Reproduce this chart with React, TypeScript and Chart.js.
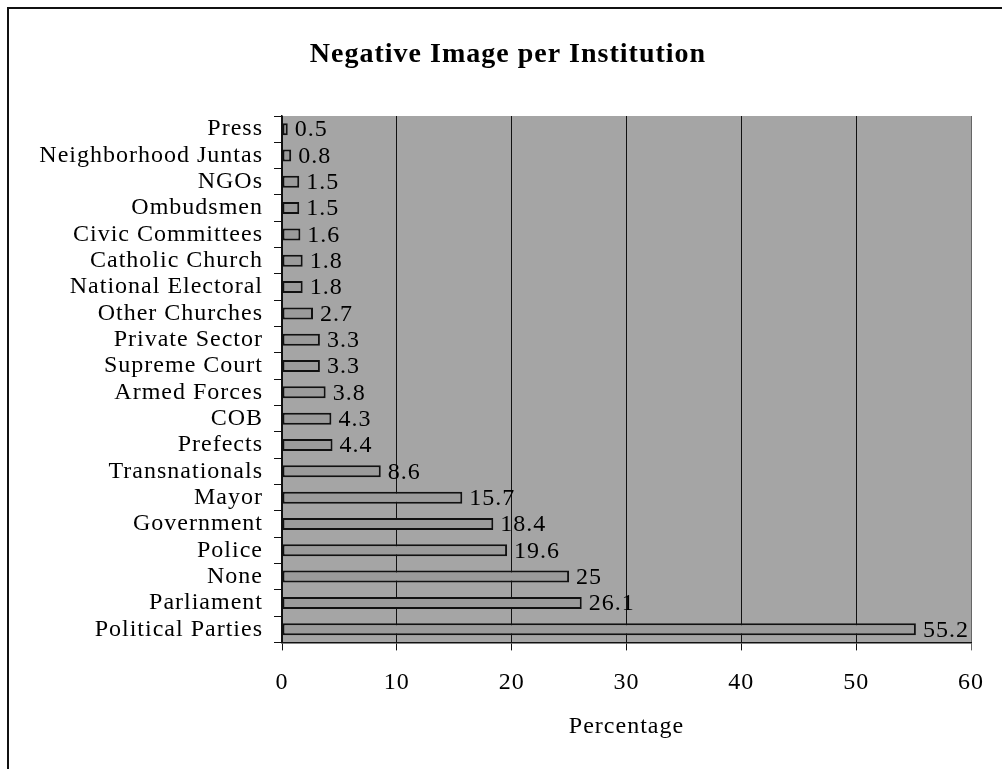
import React, { useEffect, useRef } from 'react';
import { Chart, registerables } from 'chart.js';

Chart.register(...registerables);

const CHART_TITLE = 'Negative Image per Institution';
const AXIS_TITLE = 'Percentage';
const institutions = [
  'Press',
  'Neighborhood Juntas',
  'NGOs',
  'Ombudsmen',
  'Civic Committees',
  'Catholic Church',
  'National Electoral',
  'Other Churches',
  'Private Sector',
  'Supreme Court',
  'Armed Forces',
  'COB',
  'Prefects',
  'Transnationals',
  'Mayor',
  'Government',
  'Police',
  'None',
  'Parliament',
  'Political Parties',
];
const negativeImage = [
  0.5, 0.8, 1.5, 1.5, 1.6, 1.8, 1.8, 2.7, 3.3, 3.3, 3.8, 4.3, 4.4, 8.6, 15.7, 18.4, 19.6, 25, 26.1, 55.2,
];
const X_MIN = 0;
const X_MAX = 60;
const X_STEP = 10;

const SERIF = "'Liberation Serif', 'Times New Roman', serif";
const PLOT_BG = '#a5a5a5';
const BAR_FILL = '#9b9b9b';
const SPACING = '1px';

const spacingPlugin = {
  id: 'spacing',
  beforeLayout(chart: any) {
    chart.ctx.letterSpacing = SPACING;
  },
  beforeDraw(chart: any) {
    chart.ctx.letterSpacing = SPACING;
  },
};

const backgroundPlugin = {
  id: 'plotBackground',
  beforeDraw(chart: any) {
    const { ctx, chartArea, width, height } = chart;
    ctx.save();
    ctx.fillStyle = '#ffffff';
    ctx.fillRect(0, 0, width, height);
    ctx.fillStyle = PLOT_BG;
    ctx.fillRect(chartArea.left, chartArea.top, chartArea.right - chartArea.left, chartArea.bottom - chartArea.top);
    ctx.restore();
  },
};

const valueLabelPlugin = {
  id: 'valueLabels',
  afterDatasetsDraw(chart: any) {
    const { ctx } = chart;
    const meta = chart.getDatasetMeta(0);
    const data = chart.data.datasets[0].data;
    ctx.save();
    ctx.letterSpacing = SPACING;
    ctx.font = `24px ${SERIF}`;
    ctx.fillStyle = '#000';
    ctx.textAlign = 'left';
    ctx.textBaseline = 'middle';
    meta.data.forEach((bar: any, i: number) => {
      ctx.fillText(String(data[i]), bar.x + 7, bar.y + 1);
    });
    ctx.restore();
  },
};

const frameTitlePlugin = {
  id: 'frameTitle',
  afterDraw(chart: any) {
    const { ctx } = chart;
    ctx.save();
    ctx.strokeStyle = '#111';
    ctx.lineWidth = 2;
    ctx.strokeRect(8, 8, 1100, 1000);
    ctx.letterSpacing = '1px';
    ctx.font = `bold 28px ${SERIF}`;
    ctx.fillStyle = '#000';
    ctx.textAlign = 'center';
    ctx.textBaseline = 'alphabetic';
    ctx.fillText(CHART_TITLE, 508, 62);
    ctx.restore();
  },
};

export default function App() {
  const canvasRef = useRef<HTMLCanvasElement | null>(null);

  useEffect(() => {
    const canvas = canvasRef.current;
    if (!canvas) return;
    const chart = new Chart(canvas, {
      type: 'bar',
      data: {
        labels: institutions,
        datasets: [
          {
            data: negativeImage,
            backgroundColor: BAR_FILL,
            borderColor: '#111',
            borderWidth: 2,
            borderSkipped: false,
            categoryPercentage: 0.8,
            barPercentage: 0.57,
          },
        ],
      },
      options: {
        indexAxis: 'y',
        responsive: false,
        animation: false,
        devicePixelRatio: 1,
        layout: { padding: { left: 0, right: 31, top: 116, bottom: 27.6 } },
        plugins: {
          legend: { display: false },
          title: { display: false },
          tooltip: { enabled: false },
        },
        scales: {
          x: {
            type: 'linear',
            min: X_MIN,
            max: X_MAX,
            ticks: {
              stepSize: X_STEP,
              color: '#000',
              padding: 18,
              font: { family: SERIF, size: 24 },
            },
            grid: {
              color: (c: any) => (c.tick && c.tick.value === X_MAX ? '#666' : '#111'),
              lineWidth: 1,
              tickLength: 8,
              drawTicks: true,
            },
            border: { display: true, color: '#111', width: 1.5 },
            title: {
              display: true,
              text: AXIS_TITLE,
              color: '#000',
              font: { family: SERIF, size: 24 },
              padding: { top: 0, bottom: 0 },
            },
            afterFit(scale: any) {
              scale.height = 99;
            },
          },
          y: {
            type: 'category',
            ticks: {
              color: '#000',
              padding: 11,
              font: { family: SERIF, size: 24 },
              autoSkip: false,
            },
            grid: {
              drawOnChartArea: false,
              drawTicks: true,
              tickLength: 8,
              color: '#111',
              offset: true,
            },
            border: { display: true, color: '#111', width: 1.5 },
            afterFit(scale: any) {
              scale.width = 282;
            },
          },
        },
      },
      plugins: [spacingPlugin, backgroundPlugin, valueLabelPlugin, frameTitlePlugin],
    } as any);
    return () => chart.destroy();
  }, []);

  return (
    <div style={{ position: 'absolute', left: 0, top: 0, width: 1002, height: 769, background: '#fff' }}>
      <canvas ref={canvasRef} width={1002} height={769} style={{ display: 'block' }} />
    </div>
  );
}
